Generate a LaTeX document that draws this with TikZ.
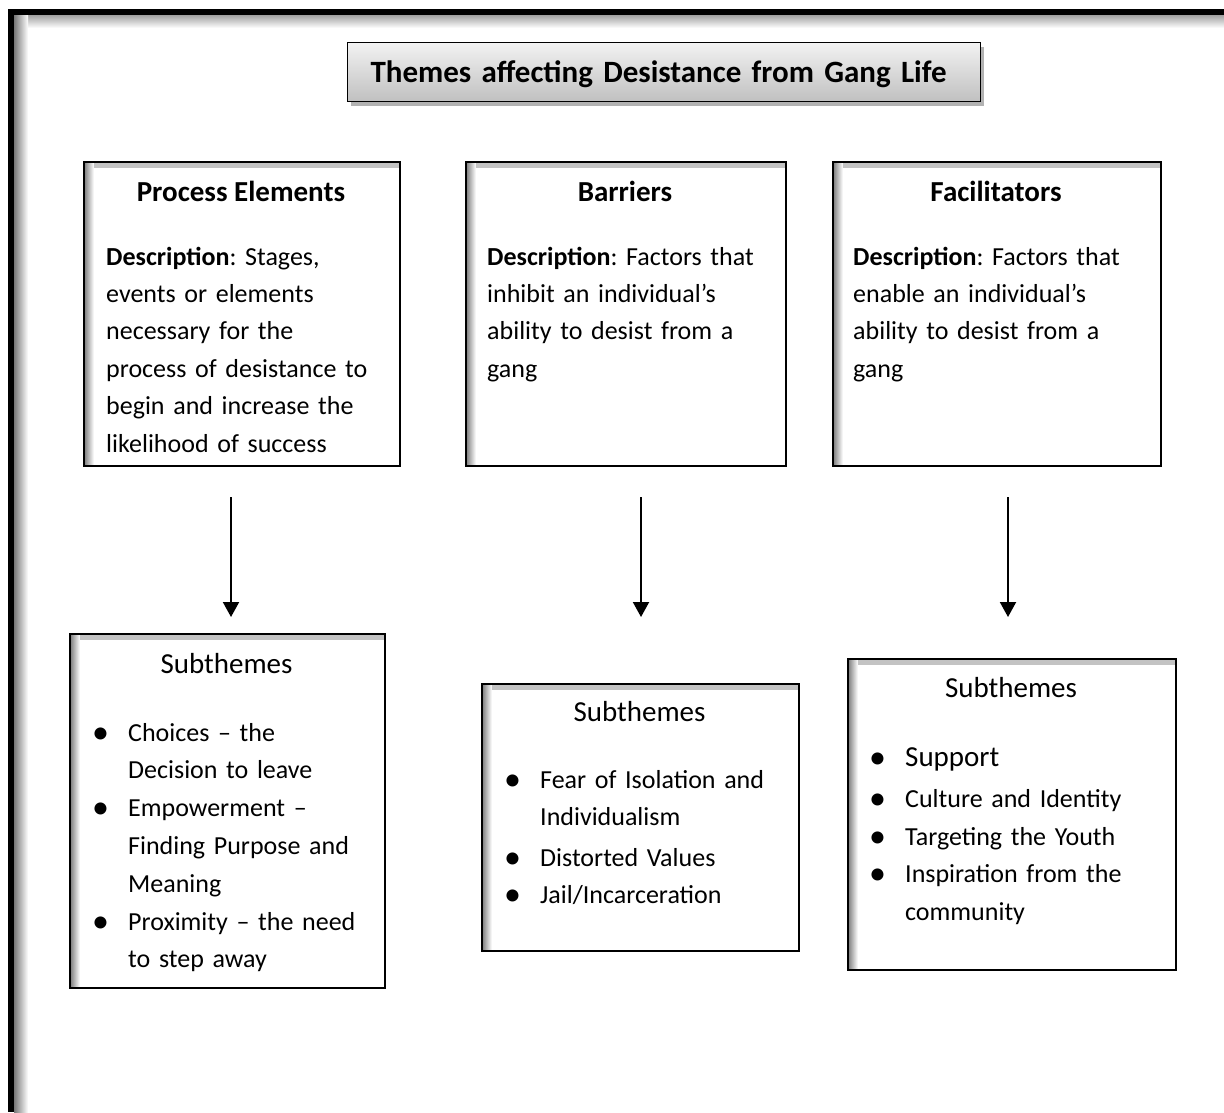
\documentclass[tikz,border=0pt]{standalone}
\usepackage{fontspec}
\setmainfont{Carlito}
\usepackage{tikz}
\usetikzlibrary{arrows.meta,positioning,shadows}
\frenchspacing
\definecolor{thedge}{RGB}{0,0,0}
\definecolor{thtop}{RGB}{242,242,242}
\definecolor{thbot}{RGB}{192,192,192}
\definecolor{thshd}{RGB}{120,120,120}
\newcommand{\bodyfont}{\fontsize{26}{37.8}\selectfont}
\newcommand{\headfont}{\fontsize{29}{37.8}\selectfont}
\newcommand{\titlefont}{\fontsize{31}{37.8}\selectfont}
\newcommand{\bul}{\makebox[33pt][l]{\hspace*{-3pt}\raisebox{-2pt}{\fontsize{34}{0}\selectfont •}}}
\newcommand{\ind}{\hspace*{33pt}}
\tikzset{
  card/.style={
    draw=thedge, line width=1.6pt, fill=white, anchor=north west,
    inner sep=0pt,
    path picture={
      \shade[top color=thshd!45, bottom color=white]
        (path picture bounding box.north west) rectangle
        ([yshift=-6pt]path picture bounding box.north east);
      \shade[left color=thshd, right color=white]
        (path picture bounding box.north west) rectangle
        ([xshift=10pt]path picture bounding box.south west);
    }
  },
  titlebox/.style={
    draw=thedge, line width=1.2pt, top color=thtop, bottom color=thbot,
    anchor=north west, align=left, text width=587pt, inner xsep=23pt,
    inner ysep=0pt, minimum height=59pt, font=\titlefont\bfseries,
    drop shadow={shadow xshift=3pt, shadow yshift=-4pt, fill=black, opacity=.3}
  },
  head/.style={font=\headfont\bfseries, anchor=base, inner sep=0pt},
  subhead/.style={font=\headfont, anchor=base, inner sep=0pt},
  desc/.style={font=\bodyfont, anchor=base west, align=left, text width=300pt, inner sep=0pt},
  arr/.style={-{Triangle[length=15pt,width=16pt]}, draw=thedge, line width=2pt}
}
\begin{document}
\begin{tikzpicture}[x=1pt, y=-1pt]
  \useasboundingbox (0,0) rectangle (1224,1112);
  % page frame
  \fill[thedge] (8,9) rectangle (1224,15);
  \fill[thedge] (8,9) rectangle (14,1112);
  \shade[top color=thshd!70, bottom color=white] (14,15) rectangle (1224,28);
  \shade[left color=thshd, right color=white] (14,15) rectangle (28,1112);

  \node[titlebox] (title) at (347,42) {\raisebox{-2pt}[22pt][6pt]{Themes affecting Desistance from Gang Life}};

  % themes
  \node[card, minimum width=316pt, minimum height=304pt] (proc) at (83,161) {};
  \node[card, minimum width=320pt, minimum height=304pt] (barr) at (465,161) {};
  \node[card, minimum width=328pt, minimum height=304pt] (faci) at (832,161) {};
  \node[head] (procH) at (241,201.5) {Process Elements};
  \node[head] (barrH) at (625,201.5) {Barriers};
  \node[head] (faciH) at (996,201.5) {Facilitators};
  \node[desc, font=\fontsize{26}{37.4}\selectfont] (procD) at (106,265) {\textbf{Description}: Stages,\\events or elements\\necessary for the\\process of desistance to\\begin and increase the\\likelihood of success};
  \node[desc, font=\fontsize{26}{37.4}\selectfont] (barrD) at (487,265) {\textbf{Description}: Factors that\\inhibit an individual’s\\ability to desist from a\\gang};
  \node[desc, font=\fontsize{26}{37.4}\selectfont] (faciD) at (853,265) {\textbf{Description}: Factors that\\enable an individual’s\\ability to desist from a\\gang};

  % subthemes
  \node[card, minimum width=315pt, minimum height=354pt] (sub1) at (69,633) {};
  \node[card, minimum width=317pt, minimum height=267pt] (sub2) at (481,683) {};
  \node[card, minimum width=328pt, minimum height=311pt] (sub3) at (847,658) {};
  \node[subhead] (sub1H) at (226.5,673.5) {Subthemes};
  \node[subhead] (sub2H) at (639.5,721.5) {Subthemes};
  \node[subhead] (sub3H) at (1011,697) {Subthemes};
  \node[desc] (sub1L) at (95,741) {\bul Choices – the\\\ind Decision to leave\\\bul Empowerment –\\\ind Finding Purpose and\\\ind Meaning\\\bul Proximity – the need\\\ind to step away};
  \node[desc] (sub2L) at (507,788) {\bul Fear of Isolation and\\\ind Individualism\\[2.5pt]\bul Distorted Values\\\bul Jail/Incarceration};
  \node[desc] (sub3L) at (872,766) {\bul {\headfont Support}\\[3.5pt]\bul Culture and Identity\\\bul Targeting the Youth\\\bul Inspiration from the\\\ind community};

  % arrows
  \coordinate (procOut) at (231,497);
  \coordinate (sub1In) at (231,617);
  \coordinate (barrOut) at (641,497);
  \coordinate (sub2In) at (641,617);
  \coordinate (faciOut) at (1008,497);
  \coordinate (sub3In) at (1008,617);
  \draw[arr] (procOut) -- (sub1In);
  \draw[arr] (barrOut) -- (sub2In);
  \draw[arr] (faciOut) -- (sub3In);
\end{tikzpicture}
\end{document}
